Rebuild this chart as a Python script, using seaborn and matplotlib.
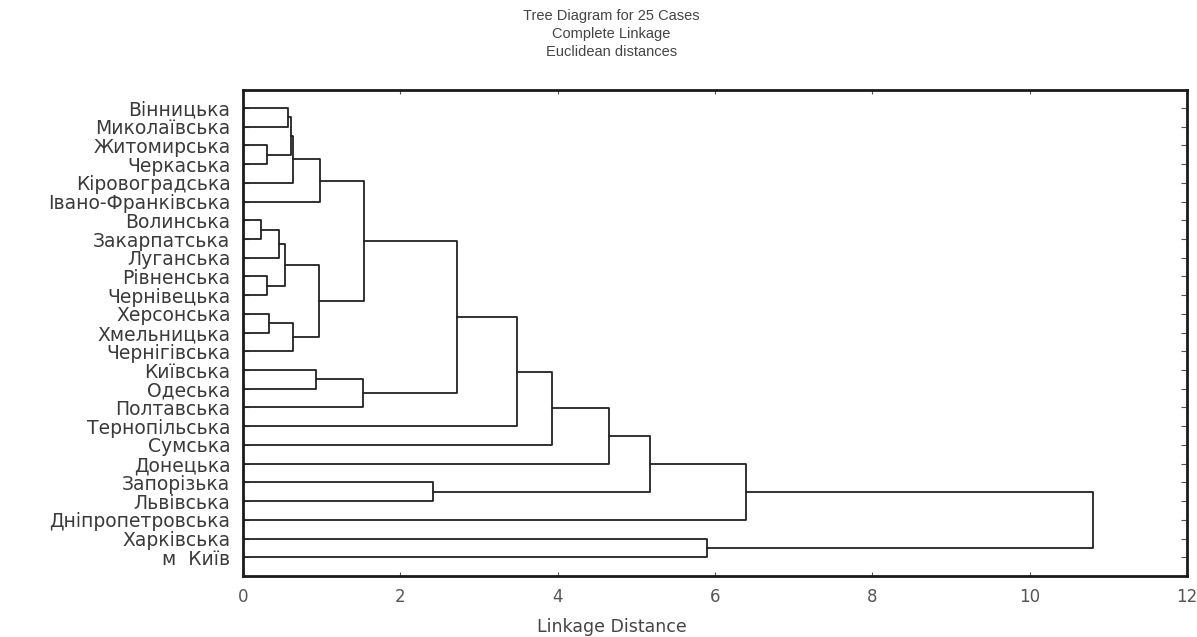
import matplotlib
matplotlib.use("Agg")
import matplotlib.pyplot as plt
import seaborn as sns
import pandas as pd

# ---- data -------------------------------------------------------------
leaf_labels = [
    "Вінницька", "Миколаївська", "Житомирська", "Черкаська", "Кіровоградська",
    "Івано-Франківська", "Волинська", "Закарпатська", "Луганська", "Рівненська",
    "Чернівецька", "Херсонська", "Хмельницька", "Чернігівська", "Київська",
    "Одеська", "Полтавська", "Тернопільська", "Сумська", "Донецька",
    "Запорізька", "Львівська", "Дніпропетровська", "Харківська", "м  Київ",
]
# merges: node ids 0..24 are leaves, each merge creates node 25, 26, ...
merge_left = [0, 2, 25, 27, 28, 6, 30, 9, 31, 11, 34, 33, 29, 14, 38, 37, 40, 41, 42, 20, 43, 45, 23, 46]
merge_right = [1, 3, 26, 4, 5, 7, 8, 10, 32, 12, 13, 35, 36, 15, 16, 39, 17, 18, 19, 21, 44, 22, 24, 47]
merge_height = [0.57, 0.31, 0.61, 0.64, 0.98, 0.23, 0.46, 0.31, 0.54, 0.33, 0.63, 0.97, 1.54,
                0.93, 1.52, 2.72, 3.48, 3.93, 4.65, 2.42, 5.18, 6.40, 5.90, 10.81]
x_ticks = [0, 2, 4, 6, 8, 10, 12]

# ---- dendrogram geometry from the merge table ------------------------
n = len(leaf_labels)
pos = {i: float(i) for i in range(n)}
hgt = {i: 0.0 for i in range(n)}
rows = []
for k, (a, b, h) in enumerate(zip(merge_left, merge_right, merge_height)):
    node = n + k
    pts = [(hgt[a], pos[a]), (h, pos[a]), (h, pos[b]), (hgt[b], pos[b])]
    for j, (x, y) in enumerate(pts):
        rows.append({"seg": k, "order": j, "dist": x, "pos": y})
    pos[node] = (pos[a] + pos[b]) / 2.0
    hgt[node] = h
df = pd.DataFrame(rows)

# ---- plot -------------------------------------------------------------
sns.set_style("ticks")
plt.rcParams["font.family"] = ["DejaVu Sans"]

fig = plt.figure(figsize=(11.97, 6.37), dpi=100)
ax = fig.add_axes([0.203, 0.0958, 0.7886, 0.7629])

sns.lineplot(data=df, x="dist", y="pos", units="seg", estimator=None, sort=False,
             color="#222222", linewidth=1.3, ax=ax, legend=False)

ax.set_xlim(0, 12)
ax.set_ylim(25.0, -0.96)
ax.set_xticks(x_ticks)
ax.set_xticklabels([str(t) for t in x_ticks], fontsize=12, color="#555555")
ax.set_yticks(range(n))
ax.set_yticklabels(leaf_labels, fontsize=13.5, color="#3a3a3a")
ax.tick_params(axis="x", direction="in", length=3, top=True, pad=9, color="#555555")
ax.tick_params(axis="y", direction="in", length=4, right=True, pad=9, color="#555555")
ax.set_xlabel("")
ax.set_ylabel("")
for s in ax.spines.values():
    s.set_visible(True)
    s.set_linewidth(2.0)
    s.set_color("#1a1a1a")

fig.text(0.511, 1 - 16 / 637, "Tree Diagram for 25 Cases", ha="center", va="center",
         fontsize=10.5, color="#444444", family="Liberation Sans")
fig.text(0.511, 1 - 34 / 637, "Complete Linkage", ha="center", va="center",
         fontsize=10.5, color="#444444", family="Liberation Sans")
fig.text(0.511, 1 - 52 / 637, "Euclidean distances", ha="center", va="center",
         fontsize=10.5, color="#444444", family="Liberation Sans")
fig.text(0.511, 1 - 627 / 637, "Linkage Distance", ha="center", va="center",
         fontsize=12.5, color="#444444")

fig.savefig("out.png", dpi=100)
